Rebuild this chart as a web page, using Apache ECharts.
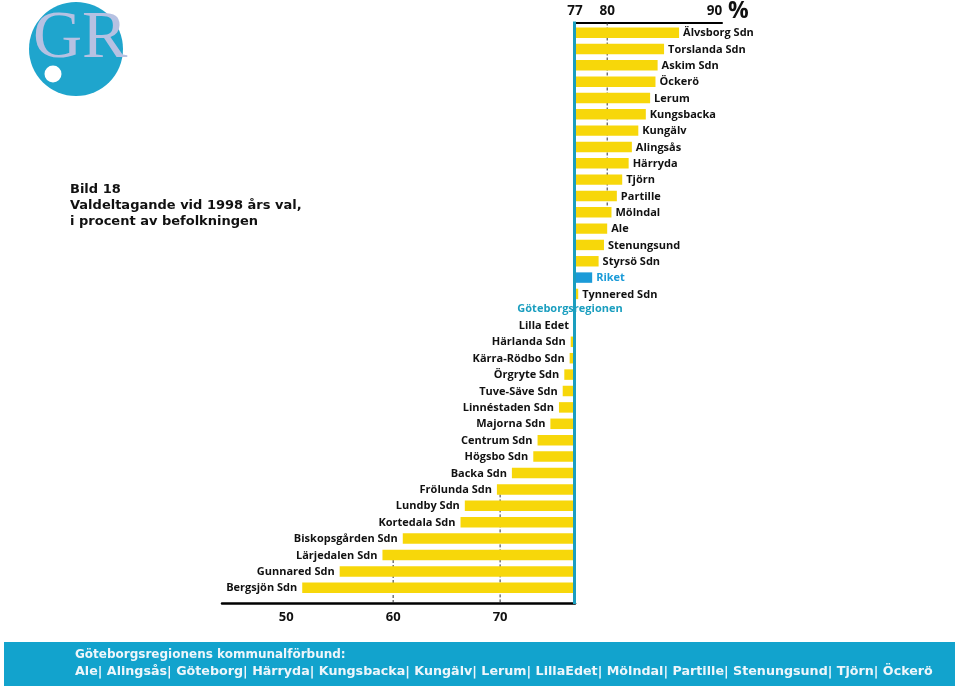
<!DOCTYPE html>
<html>
<head>
<meta charset="utf-8">
<script src="https://cdn.jsdelivr.net/npm/echarts@6/dist/echarts.min.js"></script>
<style>
  html, body { margin: 0; padding: 0; background: #fff; }
  #chart { width: 960px; height: 686px; }
</style>
</head>
<body>
<div id="chart"></div>
<script>
// ---- data (top to bottom) ----
const categories = [
  'Älvsborg Sdn', 'Torslanda Sdn', 'Askim Sdn', 'Öckerö', 'Lerum', 'Kungsbacka',
  'Kungälv', 'Alingsås', 'Härryda', 'Tjörn', 'Partille', 'Mölndal', 'Ale',
  'Stenungsund', 'Styrsö Sdn', 'Riket', 'Tynnered Sdn', 'Göteborgsregionen',
  'Lilla Edet', 'Härlanda Sdn', 'Kärra-Rödbo Sdn', 'Örgryte Sdn', 'Tuve-Säve Sdn',
  'Linnéstaden Sdn', 'Majorna Sdn', 'Centrum Sdn', 'Högsbo Sdn', 'Backa Sdn',
  'Frölunda Sdn', 'Lundby Sdn', 'Kortedala Sdn', 'Biskopsgården Sdn',
  'Lärjedalen Sdn', 'Gunnared Sdn', 'Bergsjön Sdn'
];
const turnout = [
  86.7, 85.3, 84.7, 84.5, 84.0, 83.6,
  82.9, 82.3, 82.0, 81.4, 80.9, 80.4, 80.0,
  79.7, 79.2, 78.6, 77.3, 77.0,
  76.9, 76.6, 76.5, 76.0, 75.85,
  75.5, 74.7, 73.5, 73.1, 71.1,
  69.7, 66.7, 66.3, 60.9,
  59.0, 55.0, 51.5
];
const refName = 'Göteborgsregionen';
const refValue = 77;
const nationalName = 'Riket';
const bottomTicks = [50, 60, 70];
const topTicks = [77, 80, 90];
const bottomGuides = [60, 70];
const topGuides = [80];

// ---- styles ----
const YELLOW = '#f7d70a';
const BLUE = '#1b9bd8';
const TEAL = '#1a9ebf';
const LABEL_FONT = 'Open Sans';

const chart = echarts.init(document.getElementById('chart'));

const barData = categories.map((c, i) => [turnout[i], c]);

// guide rows: the outermost bar crossing each guide value
const bottomGuideData = bottomGuides.map(g => {
  const idx = turnout.findIndex(v => v < g);
  return [g, categories[idx]];
}).filter(d => d[1] !== undefined);
const topGuideData = topGuides.map(g => {
  let idx = -1;
  turnout.forEach((v, i) => { if (v > g) idx = i; });
  return [g, categories[idx]];
}).filter(d => d[1] !== undefined);

function labelStyle(text, color, align) {
  return {
    text: text, fill: color, fontFamily: LABEL_FONT, fontWeight: 'bold',
    fontSize: 11, align: align, verticalAlign: 'middle'
  };
}

const option = {
  backgroundColor: '#fff',
  animation: false,
  grid: [
    { left: 222, width: 353, top: 22, height: 574 },
    { left: 575, width: 147, top: 22, height: 574 }
  ],
  xAxis: [
    {
      gridIndex: 0, type: 'value', min: 44, max: 77, position: 'bottom', offset: 7,
      axisLine: { show: true, lineStyle: { color: '#000', width: 2.5 } },
      axisTick: { show: false }, splitLine: { show: false },
      axisLabel: {
        customValues: bottomTicks, margin: 8, color: '#111',
        fontFamily: LABEL_FONT, fontWeight: 'bold', fontSize: 13
      }
    },
    {
      gridIndex: 1, type: 'value', min: 77, max: 90.7, position: 'top', offset: 2,
      axisLine: { show: true, lineStyle: { color: '#000', width: 2 } },
      axisTick: { show: false }, splitLine: { show: false },
      axisLabel: {
        customValues: topTicks, margin: 4,
        color: function (v) { return v === refValue ? TEAL : '#111'; },
        fontFamily: LABEL_FONT, fontWeight: 'bold', fontSize: 13.5
      },
      name: '%', nameLocation: 'end', nameGap: 6,
      nameTextStyle: {
        fontFamily: LABEL_FONT, fontWeight: 'bold', fontSize: 23, color: '#111',
        verticalAlign: 'bottom', lineHeight: 22
      }
    }
  ],
  yAxis: [
    { gridIndex: 0, type: 'category', data: categories, inverse: true, show: false },
    { gridIndex: 1, type: 'category', data: categories, inverse: true, show: false }
  ],
  series: [
    {
      type: 'custom', name: 'guidesBottom', xAxisIndex: 0, yAxisIndex: 0, silent: true,
      data: bottomGuideData,
      renderItem: function (params, api) {
        const p = api.coord([api.value(0), api.value(1)]);
        const cs = params.coordSys;
        return {
          type: 'line',
          shape: { x1: p[0], y1: p[1], x2: p[0], y2: cs.y + cs.height + 7 },
          style: { stroke: '#333', lineWidth: 1, lineDash: [3, 2] }
        };
      }
    },
    {
      type: 'custom', name: 'guidesTop', xAxisIndex: 1, yAxisIndex: 1, silent: true,
      data: topGuideData,
      renderItem: function (params, api) {
        const p = api.coord([api.value(0), api.value(1)]);
        const cs = params.coordSys;
        return {
          type: 'line',
          shape: { x1: p[0], y1: cs.y - 2, x2: p[0], y2: p[1] },
          style: { stroke: '#333', lineWidth: 1, lineDash: [3, 2] }
        };
      }
    },
    {
      type: 'custom', name: 'below', xAxisIndex: 0, yAxisIndex: 0, clip: false,
      data: barData,
      renderItem: function (params, api) {
        const v = api.value(0);
        const idx = api.value(1);
        const name = categories[idx];
        const base = api.coord([refValue, idx]);
        if (name === refName) {
          return { type: 'text', x: base[0] - 5, y: base[1], style: labelStyle(name, TEAL, 'center') };
        }
        if (v >= refValue) return;
        const start = api.coord([v, idx]);
        const h = api.size([0, 1])[1] * 0.64;
        return {
          type: 'group',
          children: [
            { type: 'rect', shape: { x: start[0], y: start[1] - h / 2, width: base[0] - start[0], height: h },
              style: { fill: YELLOW } },
            { type: 'text', x: start[0] - 5, y: start[1] + 0.5, style: labelStyle(name, '#111', 'right') }
          ]
        };
      }
    },
    {
      type: 'custom', name: 'above', xAxisIndex: 1, yAxisIndex: 1, clip: false,
      data: barData,
      renderItem: function (params, api) {
        const v = api.value(0);
        const idx = api.value(1);
        const name = categories[idx];
        if (v <= refValue || name === refName) return;
        const base = api.coord([refValue, idx]);
        const end = api.coord([v, idx]);
        const h = api.size([0, 1])[1] * 0.64;
        const isNat = name === nationalName;
        return {
          type: 'group',
          children: [
            { type: 'rect', shape: { x: base[0], y: base[1] - h / 2, width: end[0] - base[0], height: h },
              style: { fill: isNat ? BLUE : YELLOW } },
            { type: 'text', x: end[0] + 4, y: end[1] + 0.5, style: labelStyle(name, isNat ? BLUE : '#111', 'left') }
          ]
        };
      }
    },
    {
      type: 'custom', name: 'baseline', xAxisIndex: 1, yAxisIndex: 1, clip: false, silent: true,
      data: [[refValue, categories[0]]],
      renderItem: function (params, api) {
        const x = api.coord([refValue, 0])[0] - 0.5;
        const cs = params.coordSys;
        return {
          type: 'line',
          shape: { x1: x, y1: cs.y - 3, x2: x, y2: cs.y + cs.height + 8 },
          style: { stroke: TEAL, lineWidth: 3 }
        };
      }
    }
  ],
  graphic: [
    { type: 'circle', shape: { cx: 76, cy: 49, r: 47 }, style: { fill: '#1fa5cd' } },
    { type: 'text', x: 33, y: 39, style: { text: 'GR', fill: '#b6c1e2', fontFamily: 'Liberation Serif', fontSize: 68, verticalAlign: 'middle', align: 'left' } },
    { type: 'circle', shape: { cx: 53, cy: 74, r: 8.5 }, style: { fill: '#fff' } },
    { type: 'text', x: 70, y: 190, style: { text: 'Bild 18', fill: '#111', fontFamily: 'DejaVu Sans', fontWeight: 'bold', fontSize: 13, verticalAlign: 'middle' } },
    { type: 'text', x: 70, y: 206, style: { text: 'Valdeltagande vid 1998 års val,', fill: '#111', fontFamily: 'DejaVu Sans', fontWeight: 'bold', fontSize: 13, verticalAlign: 'middle' } },
    { type: 'text', x: 70, y: 222, style: { text: 'i procent av befolkningen', fill: '#111', fontFamily: 'DejaVu Sans', fontWeight: 'bold', fontSize: 13, verticalAlign: 'middle' } },
    { type: 'rect', shape: { x: 4, y: 642, width: 951, height: 44 }, style: { fill: '#12a3cd' } },
    { type: 'text', x: 75, y: 655, style: { text: 'Göteborgsregionens kommunalförbund:', fill: '#eef6fb', fontFamily: 'DejaVu Sans', fontWeight: 'bold', fontSize: 12, verticalAlign: 'middle' } },
    { type: 'text', x: 75, y: 672, style: { text: 'Ale| Alingsås| Göteborg| Härryda| Kungsbacka| Kungälv| Lerum| LillaEdet| Mölndal| Partille| Stenungsund| Tjörn| Öckerö', fill: '#eef6fb', fontFamily: 'DejaVu Sans', fontWeight: 'bold', fontSize: 12.7, verticalAlign: 'middle' } }
  ]
};

chart.setOption(option);
</script>
</body>
</html>
